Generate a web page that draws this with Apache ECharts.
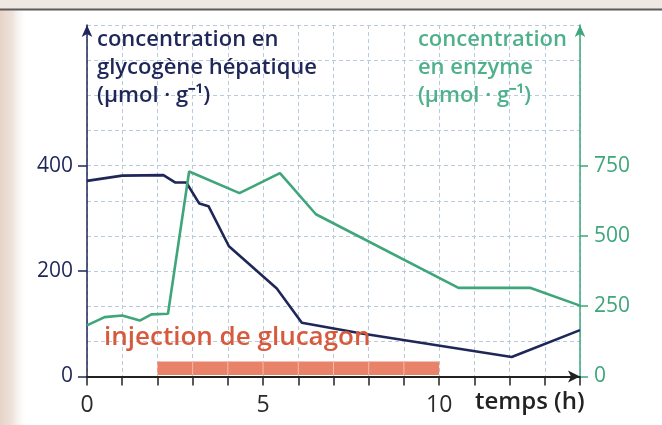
<!DOCTYPE html>
<html><head><meta charset="utf-8">
<script src="https://cdn.jsdelivr.net/npm/echarts@6/dist/echarts.min.js"></script>
<style>html,body{margin:0;padding:0;background:#fff}#c{width:662px;height:425px}</style>
</head><body><div id="c"></div>
<script>
// ---- data ----
const glycogenTime  = [0, 1, 2.17, 2.5, 2.82, 3.19, 3.45, 4.03, 5.39, 6.1, 7.76, 12.06, 14];
const glycogenValue = [371, 381, 382, 368, 368, 328, 323, 247, 167, 102, 82, 37, 88];
const enzymeTime    = [0, 0.5, 1, 1.5, 1.83, 2.3, 2.9, 4.33, 5.48, 6.5, 10.55, 12.6, 14];
const enzymeValue   = [182, 211, 217, 199, 221, 223, 729, 652, 723, 577, 315, 315, 252];
const glucagonPeriod = [2, 10];
const xTickLabels = [0, 5, 10];
const leftTickLabels = [0, 200, 400];
const rightTickLabels = [0, 250, 500, 750];
const gridCells = 10;

const NAVY = '#1f2758', GREEN = '#3ea67a', GREEN_T = '#4fb18b', ORANGE = '#e8836a', ORANGE_T = '#d75a3c';
const FONT = 'Open Sans';
const chart = echarts.init(document.getElementById('c'), null, {renderer: 'canvas'});

const glycogenData = glycogenTime.map((t, i) => [t, glycogenValue[i]]);
const enzymeData = enzymeTime.map((t, i) => [t, enzymeValue[i]]);

const gridDash = {show: true, lineStyle: {color: '#b8cadb', type: [4, 3], width: 1}};

chart.setOption({
  animation: false,
  backgroundColor: '#ffffff',
  grid: {left: 87, top: 25, width: 493, height: 351.5, containLabel: false},
  xAxis: {
    type: 'value', min: 0, max: 14, interval: 1,
    axisLine: {show: true, lineStyle: {color: '#222', width: 2}, symbol: ['none', 'arrow'], symbolSize: [9, 12], symbolOffset: [0, 0]},
    axisTick: {show: true, length: 9, lineStyle: {color: '#222', width: 1.5}},
    axisLabel: {customValues: xTickLabels, color: '#2a2a2a', fontFamily: FONT, fontSize: 23, margin: 17},
    splitLine: gridDash
  },
  yAxis: [
    {
      type: 'value', min: 0, max: 200 / 3 * gridCells, position: 'left',
      axisLine: {show: true, lineStyle: {color: NAVY, width: 1.5}, symbol: ['none', 'arrow'], symbolSize: [8, 12]},
      axisTick: {show: true, customValues: leftTickLabels, length: 9, lineStyle: {color: NAVY, width: 1.5}},
      axisLabel: {customValues: leftTickLabels, color: NAVY, fontFamily: FONT, fontSize: 21, margin: 14},
      splitLine: {show: false}
    },
    {
      type: 'value', min: 0, max: 125 * gridCells, position: 'right',
      axisLine: {show: true, lineStyle: {color: GREEN, width: 1.5}, symbol: ['none', 'arrow'], symbolSize: [8, 12]},
      axisTick: {show: true, customValues: rightTickLabels, length: 8, lineStyle: {color: GREEN, width: 1.5}},
      axisLabel: {customValues: rightTickLabels, color: GREEN, fontFamily: FONT, fontSize: 21, margin: 14},
      splitLine: {show: false}
    },
    {
      type: 'value', min: 0, max: gridCells, interval: 1, position: 'left',
      axisLine: {show: false}, axisTick: {show: false}, axisLabel: {show: false},
      splitLine: gridDash
    }
  ],
  series: [
    {
      type: 'custom', yAxisIndex: 0, z: 1, silent: true,
      data: [glucagonPeriod],
      renderItem: function (params, api) {
        const a = api.coord([api.value(0), 0]);
        const b = api.coord([api.value(1), 0]);
        const children = [{
          type: 'rect',
          shape: {x: a[0], y: a[1] - 15, width: b[0] - a[0], height: 13.5},
          style: {fill: ORANGE}
        }];
        for (let h = Math.ceil(api.value(0)) + 1; h < api.value(1); h++) {
          const p = api.coord([h, 0]);
          children.push({type: 'line', shape: {x1: p[0], y1: a[1] - 15, x2: p[0], y2: a[1] - 1.5},
            style: {stroke: 'rgba(255,230,220,0.55)', lineWidth: 1}});
        }
        return {type: 'group', children: children};
      }
    },
    {
      type: 'line', yAxisIndex: 0, data: glycogenData, symbol: 'none', z: 3,
      lineStyle: {color: NAVY, width: 2.6}
    },
    {
      type: 'line', yAxisIndex: 1, data: enzymeData, symbol: 'none', z: 4,
      lineStyle: {color: GREEN, width: 2.6}
    }
  ],
  graphic: [
    {type: 'rect', z: -10, shape: {x: 0, y: 0, width: 662, height: 9}, style: {fill: '#efe8e2'}},
    {type: 'line', z: -9, shape: {x1: 0, y1: 9.5, x2: 662, y2: 9.5}, style: {stroke: '#5c5a5a', lineWidth: 2}},
    {type: 'rect', z: -10, shape: {x: 0, y: 10, width: 28, height: 415},
      style: {fill: new echarts.graphic.LinearGradient(0, 0, 1, 0, [
        {offset: 0, color: '#e6d3c7'}, {offset: 0.45, color: '#efe3db'}, {offset: 1, color: 'rgba(255,255,255,0)'}])}},
    {type: 'text', left: 97, top: 26, z: 10, style: {
      text: 'concentration en\nglycogène hépatique\n(µmol · g⁻¹)', fill: NAVY,
      font: '600 22px "Open Sans"', lineHeight: 28}},
    {type: 'text', right: 95, top: 26, z: 10, style: {
      text: 'concentration\nen enzyme\n(µmol · g⁻¹)', fill: GREEN_T, align: 'right',
      font: '600 22px "Open Sans"', lineHeight: 28}},
    {type: 'text', left: 104, top: 325, z: 10, style: {
      text: 'injection de glucagon', fill: ORANGE_T, font: '600 26px "Open Sans"'}},
    {type: 'text', left: 475, top: 390, z: 10, style: {
      text: 'temps (h)', fill: '#222', font: '600 24px "Open Sans"'}}
  ]
});
</script></body></html>
